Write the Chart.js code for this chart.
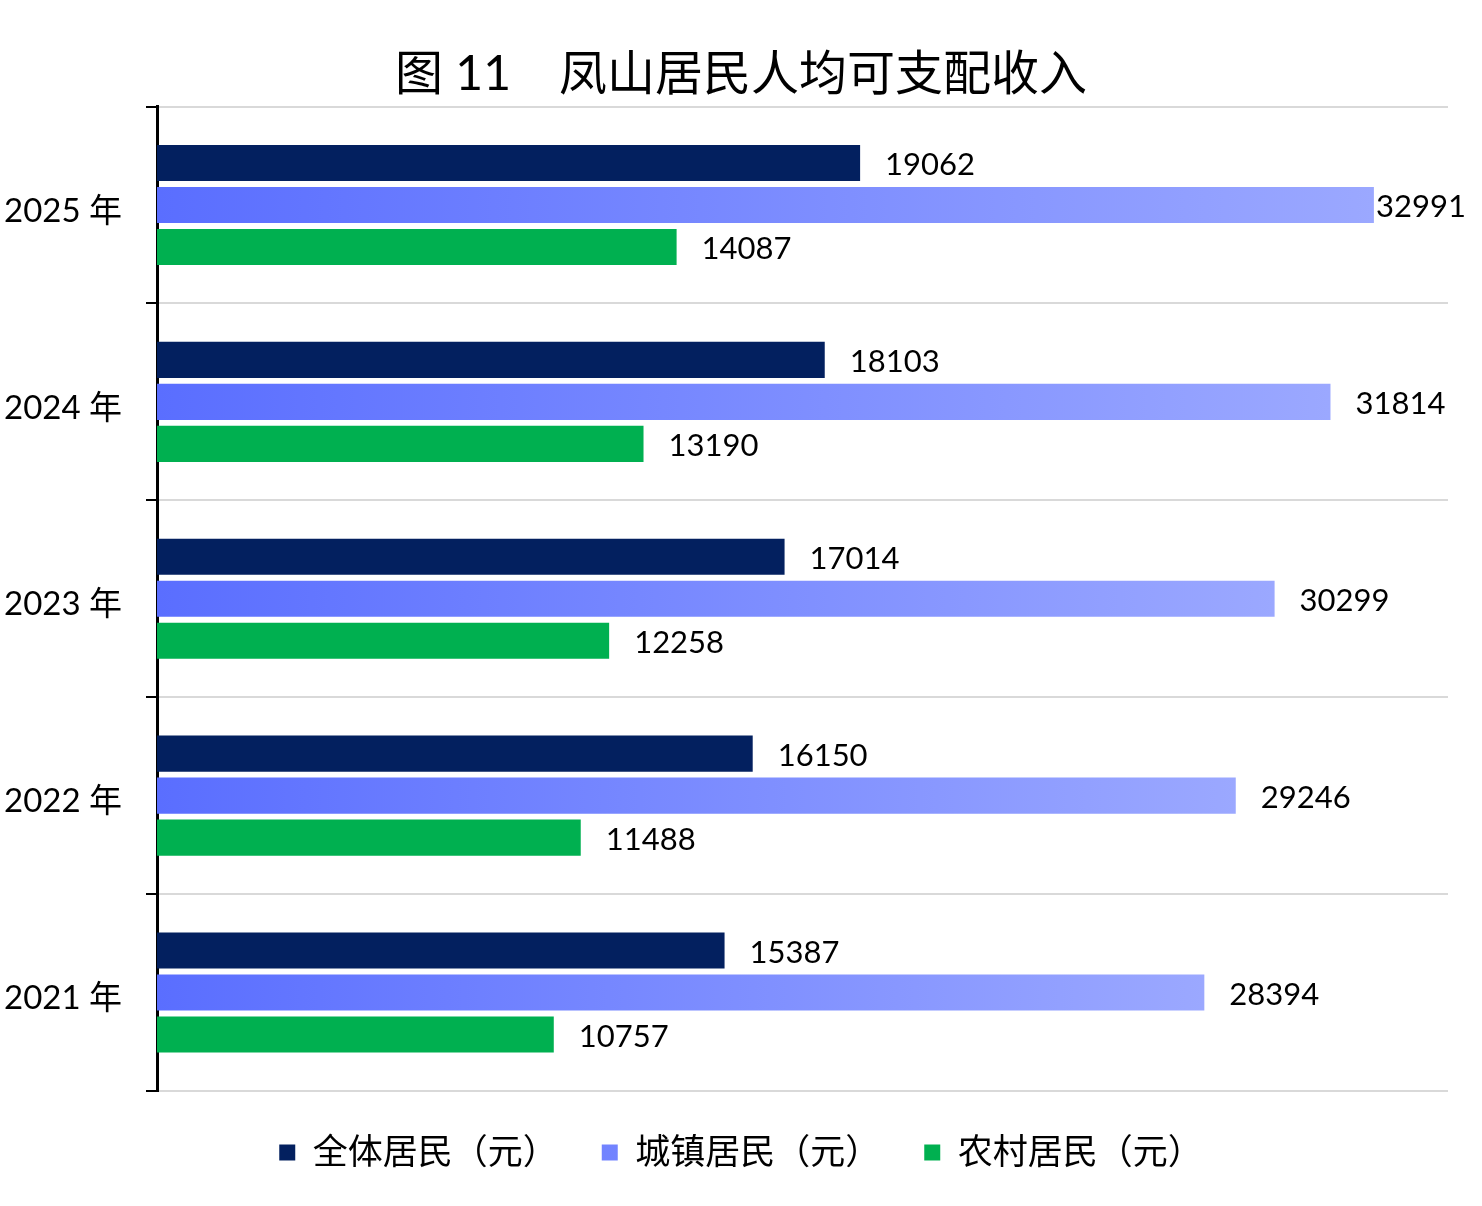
<!DOCTYPE html>
<html>
<head>
<meta charset="utf-8">
<script src="https://cdn.jsdelivr.net/npm/chart.js@4/dist/chart.umd.min.js"></script>
<style>
  body { margin: 0; background: #fff; }
  #wrap { width: 1482px; height: 1206px; }
</style>
</head>
<body>
<div id="wrap"><canvas id="incomeChart"></canvas></div>
<script>
// 年份（从上到下）
const years = ["2025 年", "2024 年", "2023 年", "2022 年", "2021 年"];
const seriesNames = ["全体居民（元）", "城镇居民（元）", "农村居民（元）"];
const allResidents = [19062, 18103, 17014, 16150, 15387];
const urbanResidents = [32991, 31814, 30299, 29246, 28394];
const ruralResidents = [14087, 13190, 12258, 11488, 10757];

const FONT = "Lato, 'Noto Sans CJK SC', sans-serif";

// gradient for urban bars, from the axis to the end of each bar
function urbanColor(ctx) {
    const chart = ctx.chart;
    if (ctx.dataIndex === undefined || !chart.chartArea) return "#7b8cff";
    const xs = chart.scales.x;
    const x0 = xs.getPixelForValue(0);
    const x1 = xs.getPixelForValue(ctx.raw);
    const g = chart.ctx.createLinearGradient(x0, 0, x1, 0);
    g.addColorStop(0, "#5a6eff");
    g.addColorStop(1, "#9ba8ff");
    return g;
}

// value labels at the end of bars
const barLabels = {
    id: "barLabels",
    afterDatasetsDraw(chart) {
        const c = chart.ctx;
        c.save();
        c.font = "31px " + FONT;
        c.fillStyle = "#000";
        c.textBaseline = "middle";
        chart.data.datasets.forEach((ds, i) => {
            chart.getDatasetMeta(i).data.forEach((bar, j) => {
                const txt = String(ds.data[j]);
                const w = c.measureText(txt).width;
                let x = bar.x + 25;
                if (x + w > chart.width - 16) x = chart.width - 16 - w;
                c.fillText(txt, x, bar.y + 2);
            });
        });
        c.restore();
    }
};

new Chart(document.getElementById("incomeChart"), {
    type: "bar",
    data: {
        labels: years,
        datasets: [
            { label: seriesNames[0], data: allResidents, backgroundColor: "#03205f" },
            { label: seriesNames[1], data: urbanResidents, backgroundColor: urbanColor },
            { label: seriesNames[2], data: ruralResidents, backgroundColor: "#00b050" }
        ]
    },
    options: {
        indexAxis: "y",
        responsive: true,
        maintainAspectRatio: false,
        animation: false,
        layout: { padding: { left: 0, right: 0, top: 0, bottom: 26 } },
        datasets: {
            bar: { categoryPercentage: 0.64, barPercentage: 0.86 }
        },
        scales: {
            x: {
                display: false,
                min: 0,
                max: 35000
            },
            y: {
                afterFit: (s) => { s.width = 157; },
                grid: {
                    offset: true,
                    color: "#d9d9d9",
                    lineWidth: 2,
                    tickColor: "#000",
                    tickLength: 11
                },
                border: { color: "#000", width: 3 },
                ticks: {
                    color: "#000",
                    padding: 24,
                    labelOffset: 6,
                    font: { size: 33, family: FONT }
                }
            },
            // empty right margin so title and legend stay centred on the page
            yRight: {
                type: "category",
                position: "right",
                afterFit: (s) => { s.width = 34; },
                grid: { display: false },
                border: { display: false },
                ticks: { display: false }
            }
        },
        plugins: {
            title: {
                display: true,
                text: "图 11　凤山居民人均可支配收入",
                color: "#000",
                font: { size: 48, family: FONT, weight: "normal" },
                padding: { top: 46, bottom: 3 }
            },
            legend: {
                position: "bottom",
                labels: {
                    color: "#000",
                    boxWidth: 16,
                    boxHeight: 16,
                    padding: 44,
                    font: { size: 35, family: FONT }
                }
            },
            tooltip: { enabled: false }
        }
    },
    plugins: [barLabels]
});
</script>
</body>
</html>
